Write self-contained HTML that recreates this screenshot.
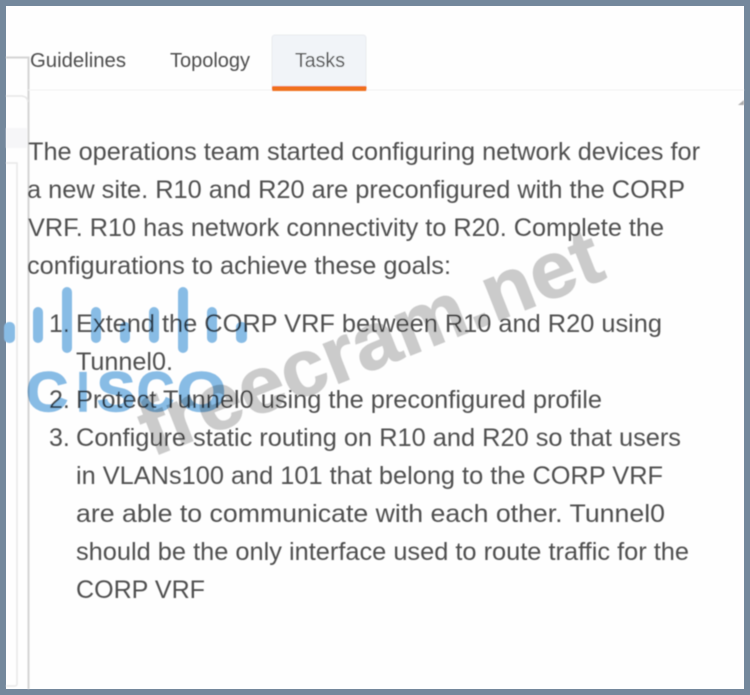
<!DOCTYPE html>
<html><head><meta charset="utf-8"><style>
html,body{margin:0;padding:0;background:#74889c}
body{width:750px;height:695px;overflow:hidden;position:relative}
svg{position:absolute;left:0;top:0}
text{font-family:"Liberation Sans",Arial,sans-serif}
</style></head><body>
<svg width="750" height="695" viewBox="0 0 750 695" xmlns="http://www.w3.org/2000/svg">
<defs><filter id="b" x="-5%" y="-5%" width="110%" height="110%"><feGaussianBlur stdDeviation="0.4"/></filter></defs>
<rect x="0" y="0" width="750" height="695" fill="#74889c"/>
<rect x="6" y="6" width="738" height="683" fill="#fefefe"/>
<g filter="url(#b)">
<!-- left panel -->
<path d="M6 57.500H28.500V689" fill="none" stroke="#d4d4d4" stroke-width="2"/>
<path d="M6 96H22Q28 97 28 102" fill="none" stroke="#e6e6e6" stroke-width="1.500"/>
<rect x="6" y="128" width="21" height="20" fill="#f6f6f8"/>
<path d="M6 163H17V684Q17 686 14 686H6" fill="none" stroke="#e8e8e8" stroke-width="1.500"/>
<!-- tabs -->
<line x1="28" y1="90" x2="744" y2="90" stroke="#f2f2f2" stroke-width="1"/>
<rect x="272" y="35" width="94" height="53" rx="3" fill="#f1f4f8" stroke="#e8ebef"/>
<rect x="272" y="86" width="94.500" height="5" rx="1" fill="#f0701a"/>
<g fill="#4e4e4e" font-size="20.500">
<text x="30" y="67" textLength="96" lengthAdjust="spacingAndGlyphs">Guidelines</text>
<text x="170" y="67" textLength="80" lengthAdjust="spacingAndGlyphs">Topology</text>
<text x="295" y="67" textLength="50" lengthAdjust="spacingAndGlyphs">Tasks</text>
</g>
<path d="M738 105L744 100V105Z" fill="#aaa"/>
<!-- body -->
<g fill="#505050" font-size="25">
<text x="28" y="160" textLength="672" lengthAdjust="spacingAndGlyphs">The operations team started configuring network devices for</text>
<text x="27" y="198" textLength="658" lengthAdjust="spacingAndGlyphs">a new site. R10 and R20 are preconfigured with the CORP</text>
<text x="28" y="236" textLength="636" lengthAdjust="spacingAndGlyphs">VRF. R10 has network connectivity to R20. Complete the</text>
<text x="27" y="274" textLength="424" lengthAdjust="spacingAndGlyphs">configurations to achieve these goals:</text>
<text x="49" y="332">1.</text>
<text x="76" y="332" textLength="586" lengthAdjust="spacingAndGlyphs">Extend the CORP VRF between R10 and R20 using</text>
<text x="76" y="370" textLength="97" lengthAdjust="spacingAndGlyphs">Tunnel0.</text>
<text x="49" y="408">2.</text>
<text x="76" y="408" textLength="526" lengthAdjust="spacingAndGlyphs">Protect Tunnel0 using the preconfigured profile</text>
<text x="49" y="446">3.</text>
<text x="76" y="446" textLength="605" lengthAdjust="spacingAndGlyphs">Configure static routing on R10 and R20 so that users</text>
<text x="76" y="484" textLength="587" lengthAdjust="spacingAndGlyphs">in VLANs100 and 101 that belong to the CORP VRF</text>
<text x="76" y="522" textLength="589" lengthAdjust="spacingAndGlyphs">are able to communicate with each other. Tunnel0</text>
<text x="76" y="560" textLength="613" lengthAdjust="spacingAndGlyphs">should be the only interface used to route traffic for the</text>
<text x="76" y="598" textLength="129" lengthAdjust="spacingAndGlyphs">CORP VRF</text>
</g>
<!-- freecram watermark -->
<g style="mix-blend-mode:multiply">
<text transform="translate(152 457) rotate(-21.500)" font-size="80" font-weight="700" fill="#cbcbcb" stroke="#cbcbcb" stroke-width="1" textLength="490" lengthAdjust="spacingAndGlyphs">freecram.net</text>
</g>
<!-- cisco watermark -->
<g style="mix-blend-mode:multiply">
<g fill="#88bce5" stroke="#88bce5">
<g stroke="none">
<rect x="4" y="322" width="11" height="21" rx="5"/>
<rect x="33" y="307" width="10" height="36" rx="5"/>
<rect x="62" y="287" width="10" height="66" rx="5"/>
<rect x="91" y="307" width="10" height="36" rx="5"/>
<rect x="120" y="322" width="10" height="21" rx="5"/>
<rect x="149" y="307" width="10" height="36" rx="5"/>
<rect x="178" y="287" width="10" height="66" rx="5"/>
<rect x="207" y="307" width="10" height="36" rx="5"/>
<rect x="236" y="322" width="11" height="21" rx="5"/>
</g>
<g font-size="56" font-weight="700" stroke-width="1.500">
<text x="26" y="411" textLength="42" lengthAdjust="spacingAndGlyphs">C</text>
<text x="77" y="411" textLength="12" lengthAdjust="spacingAndGlyphs">I</text>
<text x="97" y="411" textLength="38" lengthAdjust="spacingAndGlyphs">S</text>
<text x="137" y="411" textLength="37" lengthAdjust="spacingAndGlyphs">C</text>
<text x="177" y="411" textLength="49" lengthAdjust="spacingAndGlyphs">O</text>
</g>
</g>
</g>
</g>
</svg>
</body></html>
